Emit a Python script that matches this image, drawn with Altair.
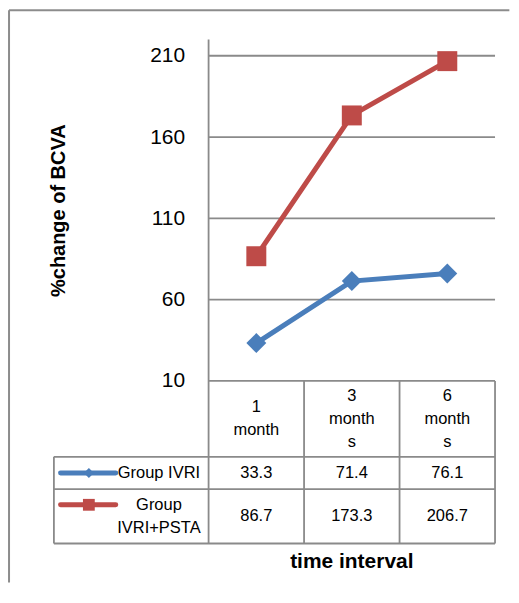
import altair as alt
import pandas as pd

# ---------------- data ----------------
categories = ["1 month", "3 months", "6 months"]
header_labels = ["1\nmonth", "3\nmonth\ns", "6\nmonth\ns"]
series = ["Group IVRI", "Group IVRI+PSTA"]
legend_labels = ["Group IVRI", "Group\nIVRI+PSTA"]
ivri = [33.3, 71.4, 76.1]
ivri_psta = [86.7, 173.3, 206.7]
y_ticks = [10, 60, 110, 160, 210]

# ---------------- style ----------------
colors = ["#4A7EBB", "#BE4B48"]
shapes = ["diamond", "square"]
main_sizes = [400, 400]
legend_sizes = [100, 140]
FONT = "Liberation Sans"
LINE_GREY = "#8a8a8a"

# ---------------- layout (in scale units) ----------------
n = len(categories)
X_LEFT = -1.62          # left edge of the legend column of the data table
X_FRAME = -2.09         # chart-area frame
X_FRAME_END = 3.15
Y_MIN, Y_MAX = -90, 220
Y_FRAME = 238
Y_FRAME_END = -114
TABLE_TOP = y_ticks[0]
HEAD_BOTTOM = -36.7
ROW1_BOTTOM = -56.5
row_bounds = [TABLE_TOP, HEAD_BOTTOM, ROW1_BOTTOM, Y_MIN]
LH_PX = 23
LH_UNITS = LH_PX / 1.629  # text line height expressed in y units

values = [ivri, ivri_psta]

xscale = alt.Scale(domain=[X_LEFT, n], nice=False, zero=False)
yscale = alt.Scale(domain=[Y_MIN, Y_MAX], nice=False, zero=False)
xaxis = alt.Axis(title="time interval", labels=False, ticks=False, domain=False, grid=False,
                 titleFontSize=21, titleFontWeight="bold", titleColor="#000000",
                 titleX=298, titleY=18, titleBaseline="middle", titleAlign="center")
yaxis = alt.Axis(title="%change of BCVA", values=y_ticks, offset=-155, ticks=False, tickSize=0,
                 domain=False, grid=False, labelPadding=24, labelFontSize=21,
                 labelColor="#000000", titleFontSize=20, titleFontWeight="bold",
                 titleColor="#000000", titleAngle=270, titleX=-150, titleY=171,
                 titleBaseline="middle", titleAlign="center")


def X(f="x"):
    return alt.X(f"{f}:Q", scale=xscale, axis=xaxis)


def Y(f="y"):
    return alt.Y(f"{f}:Q", scale=yscale, axis=yaxis)


def first_line_y(center, label):
    nl = label.count("\n") + 1
    return center + (nl - 1) * LH_UNITS / 2


# ---------------- rules: frame, grid, table ----------------
frame = pd.DataFrame([
    {"x": X_FRAME, "x2": X_FRAME, "y": Y_FRAME, "y2": Y_FRAME_END},
    {"x": X_FRAME, "x2": X_FRAME_END, "y": Y_FRAME, "y2": Y_FRAME},
])
grid = pd.DataFrame([{"x": 0, "x2": n, "y": t, "y2": t} for t in y_ticks[1:]])
table = [{"x": 0, "x2": n, "y": TABLE_TOP, "y2": TABLE_TOP}]
for yb in row_bounds[1:]:
    table.append({"x": X_LEFT, "x2": n, "y": yb, "y2": yb})
table.append({"x": X_LEFT, "x2": X_LEFT, "y": HEAD_BOTTOM, "y2": Y_MIN})
table.append({"x": 0, "x2": 0, "y": Y_MAX, "y2": Y_MIN})
for j in range(1, n + 1):
    table.append({"x": j, "x2": j, "y": TABLE_TOP, "y2": Y_MIN})
table = pd.DataFrame(table)


def rules(df, color, width):
    return alt.Chart(df).mark_rule(color=color, strokeWidth=width).encode(
        x=X(), x2="x2:Q", y=Y(), y2="y2:Q")


layers = [
    rules(frame, "#8c8c8c", 2),
    rules(grid, LINE_GREY, 1.8),
    rules(table, LINE_GREY, 1.8),
]

# header text
head_center = (TABLE_TOP + HEAD_BOTTOM) / 2
head = pd.DataFrame({"x": [j + 0.5 for j in range(n)],
                     "y": [first_line_y(head_center, h) for h in header_labels],
                     "t": header_labels})
layers.append(alt.Chart(head).mark_text(fontSize=16.5, lineBreak="\n", lineHeight=LH_PX,
                                        color="#000000", baseline="middle").encode(
    x=X(), y=Y(), text="t:N"))

for i, s in enumerate(series):
    pts = pd.DataFrame({"x": [j + 0.5 for j in range(n)], "y": values[i],
                        "cat": categories})
    layers.append(alt.Chart(pts).mark_line(color=colors[i], strokeWidth=5).encode(
        x=X(), y=Y(), order="x:Q"))

for i, s in enumerate(series):
    pts = pd.DataFrame({"x": [j + 0.5 for j in range(n)], "y": values[i]})
    layers.append(alt.Chart(pts).mark_point(shape=shapes[i], size=main_sizes[i], filled=True,
                                            opacity=1, color=colors[i]).encode(
        x=X(), y=Y()))

    rc = (row_bounds[i + 1] + row_bounds[i + 2]) / 2
    # values in the table
    vals = pd.DataFrame({"x": [j + 0.5 for j in range(n)], "y": [rc] * n,
                         "t": [f"{v:.1f}" for v in values[i]]})
    layers.append(alt.Chart(vals).mark_text(fontSize=16.5, color="#000000",
                                            baseline="middle").encode(
        x=X(), y=Y(), text="t:N"))

    # legend key in the table
    ly = first_line_y(rc, legend_labels[i])
    key = pd.DataFrame({"x": [-1.55], "x2": [-0.972], "y": [ly], "xm": [-1.254]})
    layers.append(alt.Chart(key).mark_rule(color=colors[i], strokeWidth=5,
                                           strokeCap="round").encode(
        x=X(), x2="x2:Q", y=Y()))
    layers.append(alt.Chart(key).mark_point(shape=shapes[i], size=legend_sizes[i],
                                            filled=True, opacity=1, color=colors[i]).encode(
        x=X("xm"), y=Y()))
    lab = pd.DataFrame({"x": [-0.52], "y": [ly], "t": [legend_labels[i]]})
    layers.append(alt.Chart(lab).mark_text(fontSize=16.5, lineBreak="\n", lineHeight=LH_PX,
                                           color="#000000", baseline="middle").encode(
        x=X(), y=Y(), text="t:N"))

chart = alt.layer(*layers).properties(width=442, height=505, padding=0).configure(
    font=FONT, background="#ffffff").configure_view(strokeWidth=0)

chart.save("out.html", embed_options={"renderer": "svg", "actions": False})
